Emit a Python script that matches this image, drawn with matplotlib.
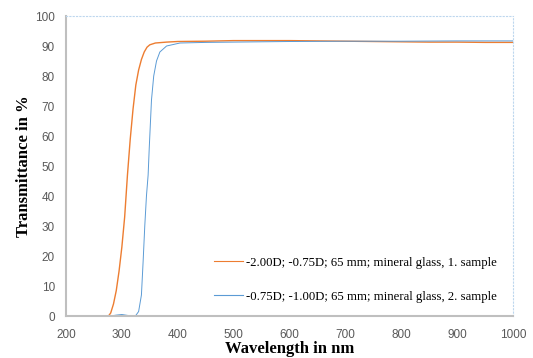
import matplotlib
matplotlib.use("Agg")
import matplotlib.pyplot as plt

# sample 1 (orange)
wl1 = [200, 250, 270, 276, 280, 285, 290, 295, 300, 305, 310, 315, 320, 325, 330,
       335, 340, 345, 350, 360, 380, 400, 450, 500, 550, 600, 650, 700, 750, 800,
       850, 900, 950, 1000]
t1 = [0, 0, 0, 0, 1, 4, 8.5, 15, 23, 33, 47, 59, 69, 77, 82,
      85.5, 88, 89.6, 90.4, 91.0, 91.3, 91.5, 91.6, 91.8, 91.8, 91.8, 91.7, 91.6, 91.5, 91.4,
      91.3, 91.3, 91.2, 91.2]

# sample 2 (blue)
wl2 = [200, 250, 280, 290, 300, 310, 320, 325, 330, 335, 338, 341, 344, 347, 349,
       351, 353, 357, 362, 368, 380, 404, 450, 500, 600, 700, 800, 900, 1000]
t2 = [0, 0, 0, 0.3, 0.5, 0.2, 0, 0.2, 1.5, 7, 18, 30, 40, 47, 56,
      64, 72, 80, 85, 88, 90, 91, 91.2, 91.3, 91.5, 91.6, 91.6, 91.7, 91.7]

label1 = "-2.00D; -0.75D; 65 mm; mineral glass, 1. sample"
label2 = "-0.75D; -1.00D; 65 mm; mineral glass, 2. sample"

fig = plt.figure(figsize=(5.33, 3.58), dpi=100)
ax = fig.add_axes([0.1238, 0.1173, 0.8387, 0.838])

ax.plot(wl1, t1, color="#ed7d31", lw=1.0, label=label1)
ax.plot(wl2, t2, color="#5b9bd5", lw=0.7, label=label2)

ax.set_xlim(200, 1000)
ax.set_ylim(0, 100)
ax.set_xticks(range(200, 1001, 100))
ax.set_yticks(range(0, 101, 10))
ax.tick_params(length=0, labelsize=8.5, labelcolor="#595959")
ax.tick_params(axis="x", pad=9)
ax.tick_params(axis="y", pad=8)
for lab in ax.get_xticklabels() + ax.get_yticklabels():
    lab.set_family("Liberation Sans")

for s in ["left", "bottom"]:
    ax.spines[s].set_color("#bfbfbf")
    ax.spines[s].set_linewidth(1.5)
for s in ["top", "right"]:
    ax.spines[s].set_color("#bdd7ee")
    ax.spines[s].set_linewidth(0.8)
    ax.spines[s].set_linestyle((0, (1, 2)))

ax.set_xlabel("Wavelength in nm", family="Liberation Serif", fontweight="bold",
              fontsize=12, labelpad=0)
ax.set_ylabel("Transmittance in %", family="Liberation Serif", fontweight="bold",
              fontsize=12, labelpad=2)

leg = ax.legend(loc="lower right", bbox_to_anchor=(503 / 533, 1 - 309 / 358),
                bbox_transform=fig.transFigure, frameon=False, borderpad=0,
                prop={"family": "Liberation Serif", "size": 9.2},
                labelspacing=1.7, handlelength=2.3, handletextpad=0.2)
for h in leg.get_lines():
    h.set_linewidth(0.8)

fig.savefig("out.png", dpi=100)
